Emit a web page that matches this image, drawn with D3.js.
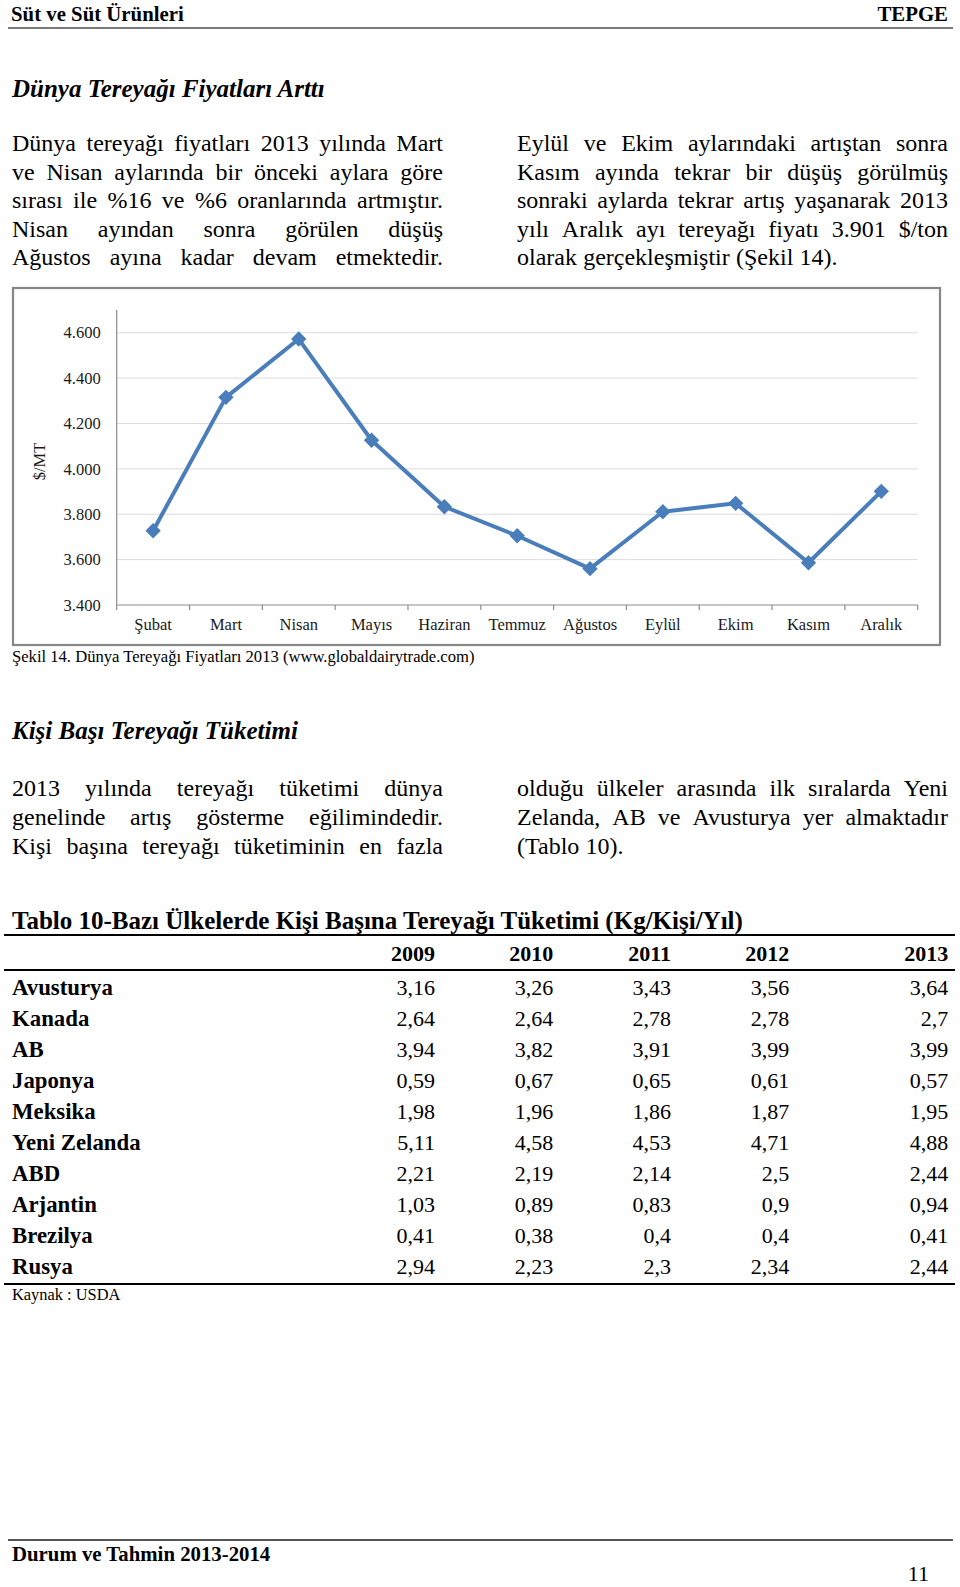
<!DOCTYPE html>
<html>
<head>
<meta charset="utf-8">
<script src="https://cdn.jsdelivr.net/npm/d3@7"></script>
<style>
  body { margin: 0; background: #fff; }
  svg { display: block; font-family: "Liberation Serif", "Times New Roman", serif; }
</style>
</head>
<body>
<svg id="page" width="960" height="1587"></svg>
<script>
// chart data (Şekil 14)
const months = ["Şubat", "Mart", "Nisan", "Mayıs", "Haziran", "Temmuz", "Ağustos", "Eylül", "Ekim", "Kasım", "Aralık"]
const prices = [3727, 4315, 4572, 4126, 3833, 3705, 3560, 3811, 3848, 3586, 3901]
const yTicks = [3400, 3600, 3800, 4000, 4200, 4400, 4600]

// table data (Tablo 10)
const years = ["2009", "2010", "2011", "2012", "2013"]
const countries = ["Avusturya", "Kanada", "AB", "Japonya", "Meksika", "Yeni Zelanda", "ABD", "Arjantin", "Brezilya", "Rusya"]
const consumption = [
  [3.16, 3.26, 3.43, 3.56, 3.64],
  [2.64, 2.64, 2.78, 2.78, 2.7],
  [3.94, 3.82, 3.91, 3.99, 3.99],
  [0.59, 0.67, 0.65, 0.61, 0.57],
  [1.98, 1.96, 1.86, 1.87, 1.95],
  [5.11, 4.58, 4.53, 4.71, 4.88],
  [2.21, 2.19, 2.14, 2.5, 2.44],
  [1.03, 0.89, 0.83, 0.9, 0.94],
  [0.41, 0.38, 0.4, 0.4, 0.41],
  [2.94, 2.23, 2.3, 2.34, 2.44]
]

// text blocks
const para1Left = ["Dünya tereyağı fiyatları 2013 yılında Mart", "ve Nisan aylarında bir önceki aylara göre",
  "sırası ile %16 ve %6 oranlarında artmıştır.", "Nisan ayından sonra görülen düşüş",
  "Ağustos ayına kadar devam etmektedir."]
const para1Right = ["Eylül ve Ekim aylarındaki artıştan sonra", "Kasım ayında tekrar bir düşüş görülmüş",
  "sonraki aylarda tekrar artış yaşanarak 2013", "yılı Aralık ayı tereyağı fiyatı 3.901 $/ton",
  "olarak gerçekleşmiştir (Şekil 14)."]
const para2Left = ["2013 yılında tereyağı tüketimi dünya", "genelinde artış gösterme eğilimindedir.",
  "Kişi başına tereyağı tüketiminin en fazla"]
const para2Right = ["olduğu ülkeler arasında ilk sıralarda Yeni", "Zelanda, AB ve Avusturya yer almaktadır",
  "(Tablo 10)."]

const svg = d3.select("#page")

// justified paragraph: every line but the ones listed in `ragged` fills x0..x1
function paragraph(lines, x0, x1, y0, lh, ragged) {
  const g = svg.append("g").style("font-size", "24px")
  lines.forEach((line, i) => {
    const words = line.split(" ")
    const y = y0 + i * lh
    const ts = words.map(w => g.append("text").attr("y", y).text(w))
    const widths = ts.map(t => t.node().getComputedTextLength())
    const total = d3.sum(widths)
    const gap = ragged.includes(i) || words.length < 2 ? 6.2 : (x1 - x0 - total) / (words.length - 1)
    let x = x0
    ts.forEach((t, k) => { t.attr("x", x); x += widths[k] + gap })
  })
}

// page header / footer
svg.append("text").attr("x", 11).attr("y", 21).style("font", "bold 20.8px 'Liberation Serif'").text("Süt ve Süt Ürünleri")
svg.append("text").attr("x", 948).attr("y", 21).attr("text-anchor", "end").style("font", "bold 20.8px 'Liberation Serif'").text("TEPGE")
svg.append("line").attr("x1", 8).attr("x2", 953).attr("y1", 28).attr("y2", 28).attr("stroke", "#7a7a7a").attr("stroke-width", 2)

svg.append("text").attr("x", 12).attr("y", 97).style("font", "italic bold 25px 'Liberation Serif'").text("Dünya Tereyağı Fiyatları Arttı")

paragraph(para1Left, 12, 443, 151, 28.6, [])
paragraph(para1Right, 517, 948, 151, 28.6, [4])

// ---- chart ----
const box = { x: 13, y: 288, w: 927, h: 357 }
const plot = { left: 116.7, right: 917.7, top: 310, bottom: 605 }

svg.append("rect")
    .attr("x", box.x).attr("y", box.y).attr("width", box.w).attr("height", box.h)
    .attr("fill", "#fff").attr("stroke", "#878787").attr("stroke-width", 2.2)

const x = d3.scaleBand().domain(months).range([plot.left, plot.right])
const y = d3.scaleLinear().domain([3400, 4700]).range([plot.bottom, plot.top])

const fmt = d3.formatLocale({ decimal: ",", thousands: ".", grouping: [3], currency: ["", ""] }).format(",")

// gridlines
svg.append("g")
  .selectAll("line")
  .data(yTicks.slice(1))
  .join("line")
    .attr("x1", plot.left).attr("x2", plot.right)
    .attr("y1", d => y(d)).attr("y2", d => y(d))
    .attr("stroke", "#dcdcdc").attr("stroke-width", 1)

// y axis
const yAxis = svg.append("g")
    .attr("transform", `translate(${plot.left},0)`)
    .call(d3.axisLeft(y).tickValues(yTicks).tickFormat(fmt).tickSize(0).tickPadding(16))
yAxis.select(".domain").remove()
yAxis.selectAll("text").style("font", "16.5px 'Liberation Serif'").attr("fill", "#1a1a1a")
svg.append("line").attr("x1", plot.left).attr("x2", plot.left).attr("y1", plot.top).attr("y2", plot.bottom)
    .attr("stroke", "#8c8c8c").attr("stroke-width", 1.2)

// x axis
const xAxis = svg.append("g")
    .attr("transform", `translate(0,${plot.bottom})`)
    .call(d3.axisBottom(x).tickSize(0).tickPadding(13))
xAxis.select(".domain").remove()
xAxis.selectAll("text").style("font", "16.5px 'Liberation Serif'").attr("fill", "#1a1a1a")
svg.append("line").attr("x1", plot.left).attr("x2", plot.right).attr("y1", plot.bottom).attr("y2", plot.bottom)
    .attr("stroke", "#8c8c8c").attr("stroke-width", 1.2)
svg.append("g")
  .selectAll("line")
  .data(months.map(m => x(m)).concat([plot.right]))
  .join("line")
    .attr("x1", d => d).attr("x2", d => d)
    .attr("y1", plot.bottom).attr("y2", plot.bottom + 5)
    .attr("stroke", "#8c8c8c").attr("stroke-width", 1.2)

svg.append("text")
    .attr("transform", `translate(45,${(plot.top + plot.bottom) / 2 + 4}) rotate(-90)`)
    .attr("text-anchor", "middle")
    .style("font", "16.5px 'Liberation Serif'")
    .attr("fill", "#1a1a1a")
    .text("$/MT")

// series
const cx = m => x(m) + x.bandwidth() / 2
svg.append("path")
    .datum(prices)
    .attr("fill", "none")
    .attr("stroke", "#4a7ebb")
    .attr("stroke-width", 4)
    .attr("stroke-linejoin", "round")
    .attr("d", d3.line().x((d, i) => cx(months[i])).y(d => y(d)))

svg.append("g")
  .selectAll("path")
  .data(prices)
  .join("path")
    .attr("transform", (d, i) => `translate(${cx(months[i])},${y(d)}) rotate(45)`)
    .attr("d", d3.symbol(d3.symbolSquare, 118))
    .attr("fill", "#4a7ebb")

svg.append("text").attr("x", 12).attr("y", 662).style("font", "16.6px 'Liberation Serif'")
    .text("Şekil 14. Dünya Tereyağı Fiyatları 2013 (www.globaldairytrade.com)")

// ---- second section ----
svg.append("text").attr("x", 12).attr("y", 739).style("font", "italic bold 25px 'Liberation Serif'").text("Kişi Başı Tereyağı Tüketimi")

paragraph(para2Left, 12, 443, 796, 29, [])
paragraph(para2Right, 517, 948, 796, 29, [2])

// ---- table ----
const colRight = [435, 553.3, 671, 789.3, 948.3]
const rowY = d3.scaleLinear().domain([0, countries.length - 1]).range([995, 1274])
const num = v => String(v).replace(".", ",")

svg.append("text").attr("x", 12).attr("y", 929).style("font", "bold 25px 'Liberation Serif'")
    .text("Tablo 10-Bazı Ülkelerde Kişi Başına Tereyağı Tüketimi (Kg/Kişi/Yıl)")

const rules = [935, 970, 1284]
svg.append("g")
  .selectAll("line")
  .data(rules)
  .join("line")
    .attr("x1", 4).attr("x2", 955)
    .attr("y1", d => d).attr("y2", d => d)
    .attr("stroke", "#000").attr("stroke-width", 2)

svg.append("g")
    .style("font", "bold 22px 'Liberation Serif'")
    .attr("text-anchor", "end")
  .selectAll("text")
  .data(years)
  .join("text")
    .attr("x", (d, i) => colRight[i])
    .attr("y", 961)
    .text(d => d)

const rows = svg.append("g")
  .selectAll("g")
  .data(countries)
  .join("g")
    .attr("transform", (d, i) => `translate(0,${rowY(i)})`)

rows.append("text")
    .attr("x", 12)
    .style("font", "bold 22.8px 'Liberation Serif'")
    .text(d => d)

rows.selectAll("text.v")
  .data((d, i) => consumption[i])
  .join("text")
    .attr("class", "v")
    .attr("x", (d, j) => colRight[j])
    .attr("text-anchor", "end")
    .style("font", "22px 'Liberation Serif'")
    .text(num)

svg.append("text").attr("x", 12).attr("y", 1300).style("font", "16.4px 'Liberation Serif'").text("Kaynak : USDA")

// footer
svg.append("line").attr("x1", 8).attr("x2", 953).attr("y1", 1540).attr("y2", 1540).attr("stroke", "#555").attr("stroke-width", 2)
svg.append("text").attr("x", 12).attr("y", 1561).style("font", "bold 20.8px 'Liberation Serif'").text("Durum ve Tahmin 2013-2014")
svg.append("text").attr("x", 929).attr("y", 1581).attr("text-anchor", "end").style("font", "22px 'Liberation Serif'").text("11")
</script>
</body>
</html>
